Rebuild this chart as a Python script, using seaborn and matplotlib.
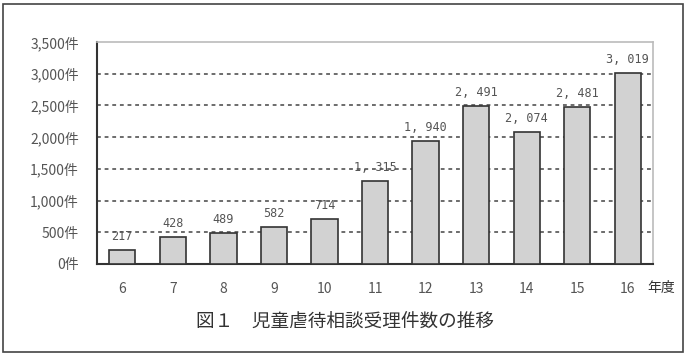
import numpy as np
import pandas as pd
import matplotlib
matplotlib.use("Agg")
import matplotlib.pyplot as plt
import seaborn as sns
from matplotlib.patches import Rectangle

years = ["6", "7", "8", "9", "10", "11", "12", "13", "14", "15", "16"]
counts = [217, 428, 489, 582, 714, 1315, 1940, 2491, 2074, 2481, 3019]
yticks = [0, 500, 1000, 1500, 2000, 2500, 3000, 3500]

sns.set_style("white")
plt.rcParams["font.family"] = ["Noto Sans CJK JP", "DejaVu Sans"]

df = pd.DataFrame({"year": years, "count": counts})

fig = plt.figure(figsize=(6.86, 3.58), dpi=100)
ax = fig.add_axes([0.1414, 0.2626, 0.8106, 0.6201])

sns.barplot(data=df, x="year", y="count", order=years, color="#d2d2d2",
            edgecolor="#333333", linewidth=1.2, width=0.52, ax=ax, zorder=3)

ax.set_xlim(-0.5, 10.5)
ax.set_ylim(0, 3500)
ax.set_yticks(yticks)
ax.set_yticklabels([f"{v:,}件" for v in yticks], color="#555555", fontsize=10)
ax.set_xticks(range(len(years)))
ax.set_xticklabels(years, color="#555555", fontsize=10)
ax.tick_params(axis="x", length=0, pad=13)
ax.tick_params(axis="y", length=0, pad=13)
ax.set_xticks(np.arange(0.5, len(years) - 1, 1), minor=True)
ax.tick_params(axis="x", which="minor", direction="in", length=3, width=1, color="#333333")
ax.set_xlabel("")
ax.set_ylabel("")

for v in yticks[1:-1]:
    ax.axhline(v, color="#444444", linestyle=(0, (2.5, 2.5)), linewidth=1.1, zorder=1)

for s in ["left", "bottom"]:
    ax.spines[s].set_color("#333333")
    ax.spines[s].set_linewidth(1.5)
for s in ["top", "right"]:
    ax.spines[s].set_color("#bbbbbb")
    ax.spines[s].set_linewidth(1.2)

for i, v in enumerate(counts):
    ax.text(i, v + 110, f"{v:,}".replace(",", ", "), ha="center", va="bottom",
            fontsize=8.5, color="#555555", family=["DejaVu Sans Mono"], zorder=4)

fig.text(661 / 686, 1 - 288 / 358, "年度", ha="center", va="center", fontsize=10, color="#333333")
fig.text(345 / 686, 1 - 322 / 358, "図１　児童虐待相談受理件数の推移", ha="center", va="center",
         fontsize=13.4, color="#333333")

fig.patches.append(Rectangle((3 / 686, 1 - 352 / 358), 680 / 686, 348 / 358,
                             transform=fig.transFigure, fill=False, edgecolor="#444444", linewidth=1.2))

fig.savefig("out.png", dpi=100)
